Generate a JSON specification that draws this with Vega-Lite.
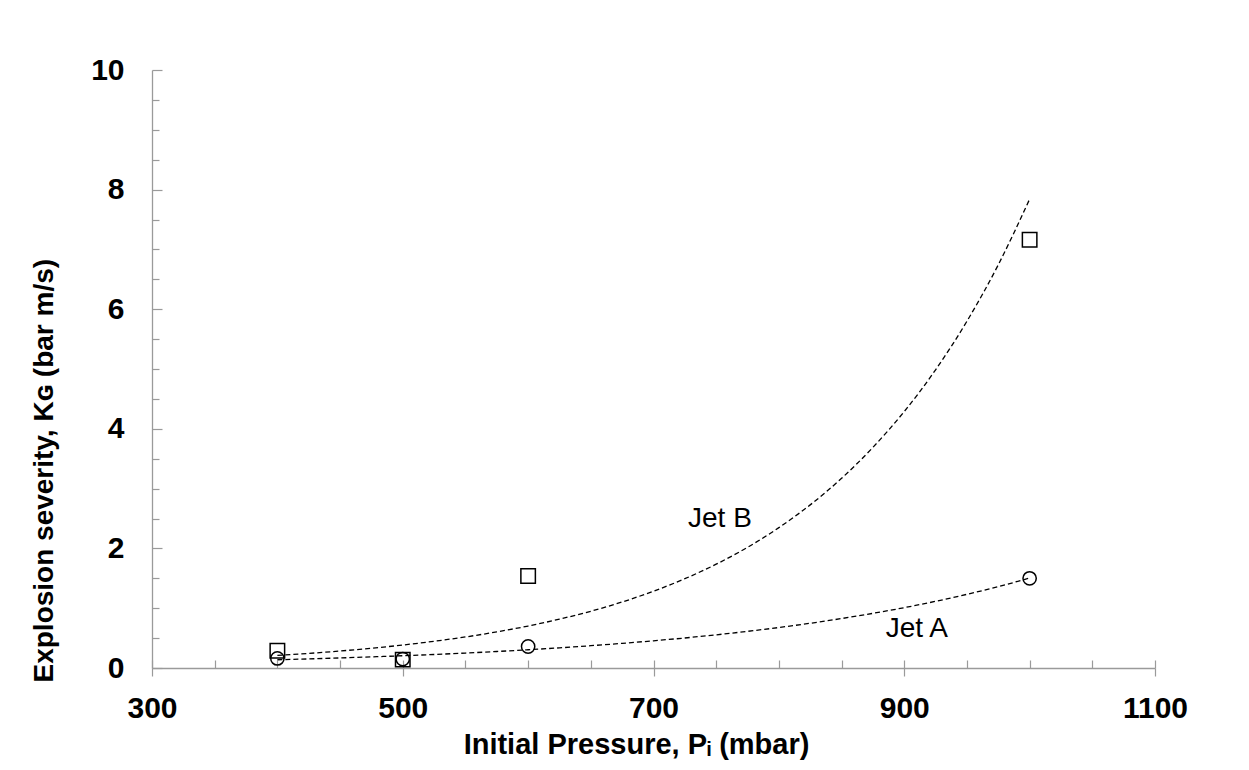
{
  "$schema": "https://vega.github.io/schema/vega-lite/v6.json",
  "width": 1003,
  "height": 598,
  "autosize": {"type": "none"},
  "padding": {"left": 152, "top": 70, "right": 94, "bottom": 102},
  "background": "white",
  "datasets": {
    "pts": [
      {"jet": "A", "P": 400, "K": 0.16},
      {"jet": "A", "P": 500, "K": 0.15},
      {"jet": "A", "P": 600, "K": 0.36},
      {"jet": "A", "P": 1000, "K": 1.50},
      {"jet": "B", "P": 400, "K": 0.29},
      {"jet": "B", "P": 500, "K": 0.14},
      {"jet": "B", "P": 600, "K": 1.54},
      {"jet": "B", "P": 1000, "K": 7.16}
    ],
    "fit": [
      {"jet": "A", "P": 400, "K": 0.138},
      {"jet": "A", "P": 425, "K": 0.152},
      {"jet": "A", "P": 450, "K": 0.168},
      {"jet": "A", "P": 475, "K": 0.186},
      {"jet": "A", "P": 500, "K": 0.205},
      {"jet": "A", "P": 525, "K": 0.226},
      {"jet": "A", "P": 550, "K": 0.250},
      {"jet": "A", "P": 575, "K": 0.276},
      {"jet": "A", "P": 600, "K": 0.305},
      {"jet": "A", "P": 625, "K": 0.337},
      {"jet": "A", "P": 650, "K": 0.373},
      {"jet": "A", "P": 675, "K": 0.412},
      {"jet": "A", "P": 700, "K": 0.455},
      {"jet": "A", "P": 725, "K": 0.502},
      {"jet": "A", "P": 750, "K": 0.555},
      {"jet": "A", "P": 775, "K": 0.613},
      {"jet": "A", "P": 800, "K": 0.677},
      {"jet": "A", "P": 825, "K": 0.748},
      {"jet": "A", "P": 850, "K": 0.827},
      {"jet": "A", "P": 875, "K": 0.914},
      {"jet": "A", "P": 900, "K": 1.009},
      {"jet": "A", "P": 925, "K": 1.115},
      {"jet": "A", "P": 950, "K": 1.232},
      {"jet": "A", "P": 975, "K": 1.361},
      {"jet": "A", "P": 1000, "K": 1.504},
      {"jet": "B", "P": 400, "K": 0.210},
      {"jet": "B", "P": 425, "K": 0.244},
      {"jet": "B", "P": 450, "K": 0.284},
      {"jet": "B", "P": 475, "K": 0.330},
      {"jet": "B", "P": 500, "K": 0.384},
      {"jet": "B", "P": 525, "K": 0.447},
      {"jet": "B", "P": 550, "K": 0.519},
      {"jet": "B", "P": 575, "K": 0.604},
      {"jet": "B", "P": 600, "K": 0.702},
      {"jet": "B", "P": 625, "K": 0.817},
      {"jet": "B", "P": 650, "K": 0.949},
      {"jet": "B", "P": 675, "K": 1.104},
      {"jet": "B", "P": 700, "K": 1.284},
      {"jet": "B", "P": 725, "K": 1.493},
      {"jet": "B", "P": 750, "K": 1.736},
      {"jet": "B", "P": 775, "K": 2.018},
      {"jet": "B", "P": 800, "K": 2.347},
      {"jet": "B", "P": 825, "K": 2.728},
      {"jet": "B", "P": 850, "K": 3.172},
      {"jet": "B", "P": 875, "K": 3.689},
      {"jet": "B", "P": 900, "K": 4.289},
      {"jet": "B", "P": 925, "K": 4.987},
      {"jet": "B", "P": 950, "K": 5.799},
      {"jet": "B", "P": 975, "K": 6.743},
      {"jet": "B", "P": 1000, "K": 7.841}
    ],
    "labels": [
      {"label": "Jet B", "P": 753, "K": 2.36},
      {"label": "Jet A", "P": 910, "K": 0.52}
    ]
  },
  "config": {
    "view": {"stroke": null},
    "axis": {
      "grid": false,
      "domainColor": "#9a9a9a",
      "domainWidth": 1.3,
      "tickColor": "#9a9a9a",
      "tickWidth": 1.2,
      "labelFont": "Liberation Sans",
      "titleFont": "Liberation Sans",
      "labelColor": "black",
      "titleColor": "black",
      "labelFlush": false
    }
  },
  "layer": [
    {
      "data": {"name": "fit"},
      "mark": {"type": "line", "color": "black", "strokeWidth": 1.3, "strokeDash": [5, 3], "interpolate": "monotone"},
      "encoding": {
        "detail": {"field": "jet"},
        "x": {
          "field": "P", "type": "quantitative",
          "scale": {"domain": [300, 1100], "nice": false, "zero": false},
          "axis": {
            "orient": "bottom",
            "values": [300, 500, 700, 900, 1100],
            "format": "d",
            "tickSize": 8,
            "labelPadding": 17,
            "labelFontSize": 30,
            "labelFontWeight": "bold",
            "title": "Initial Pressure, Pᵢ (mbar)",
            "titleFontSize": 29,
            "titleFontWeight": "bold",
            "titleAlign": "center",
            "titleBaseline": "alphabetic",
            "titleAngle": 0,
            "titleX": 484,
            "titleY": 85
          }
        },
        "y": {
          "field": "K", "type": "quantitative",
          "scale": {"domain": [0, 10], "nice": false},
          "axis": {
            "orient": "left",
            "values": [0, 2, 4, 6, 8, 10],
            "format": "d",
            "ticks": false,
            "tickSize": 0,
            "labelPadding": 28,
            "labelFontSize": 30,
            "labelFontWeight": "bold",
            "title": "Explosion severity, Kɢ (bar m/s)",
            "titleFontSize": 28,
            "titleFontWeight": "bold",
            "titleAngle": -90,
            "titleAlign": "left",
            "titleBaseline": "alphabetic",
            "titleX": -100,
            "titleY": 612
          }
        }
      }
    },
    {
      "data": {"name": "pts"},
      "transform": [{"filter": "datum.jet === 'A'"}],
      "mark": {"type": "point", "shape": "circle", "filled": false, "color": "black", "strokeWidth": 1.5, "size": 177, "opacity": 1},
      "encoding": {
        "x": {
          "field": "P", "type": "quantitative",
          "axis": {
            "orient": "bottom",
            "values": [300, 350, 400, 450, 500, 550, 600, 650, 700, 750, 800, 850, 900, 950, 1000, 1050, 1100],
            "tickSize": -8,
            "labels": false,
            "domain": false,
            "title": null
          }
        },
        "y": {
          "field": "K", "type": "quantitative",
          "axis": {
            "orient": "left",
            "values": [0, 2, 4, 6, 8, 10],
            "tickSize": -10,
            "labels": false,
            "domain": false,
            "title": null
          }
        }
      }
    },
    {
      "data": {"name": "pts"},
      "transform": [{"filter": "datum.jet === 'B'"}],
      "mark": {"type": "point", "shape": "square", "filled": false, "color": "black", "strokeWidth": 1.5, "size": 210, "opacity": 1},
      "encoding": {
        "x": {"field": "P", "type": "quantitative", "axis": null},
        "y": {
          "field": "K", "type": "quantitative",
          "axis": {
            "orient": "left",
            "values": [0.5, 1, 1.5, 2.5, 3, 3.5, 4.5, 5, 5.5, 6.5, 7, 7.5, 8.5, 9, 9.5],
            "tickSize": -7,
            "labels": false,
            "domain": false,
            "title": null
          }
        }
      }
    },
    {
      "data": {"name": "labels"},
      "mark": {"type": "text", "font": "Liberation Sans", "fontSize": 28, "color": "black", "align": "center", "baseline": "alphabetic"},
      "encoding": {
        "x": {"field": "P", "type": "quantitative", "axis": null},
        "y": {"field": "K", "type": "quantitative", "axis": null},
        "text": {"field": "label"}
      }
    }
  ],
  "resolve": {"axis": {"x": "independent", "y": "independent"}}
}
